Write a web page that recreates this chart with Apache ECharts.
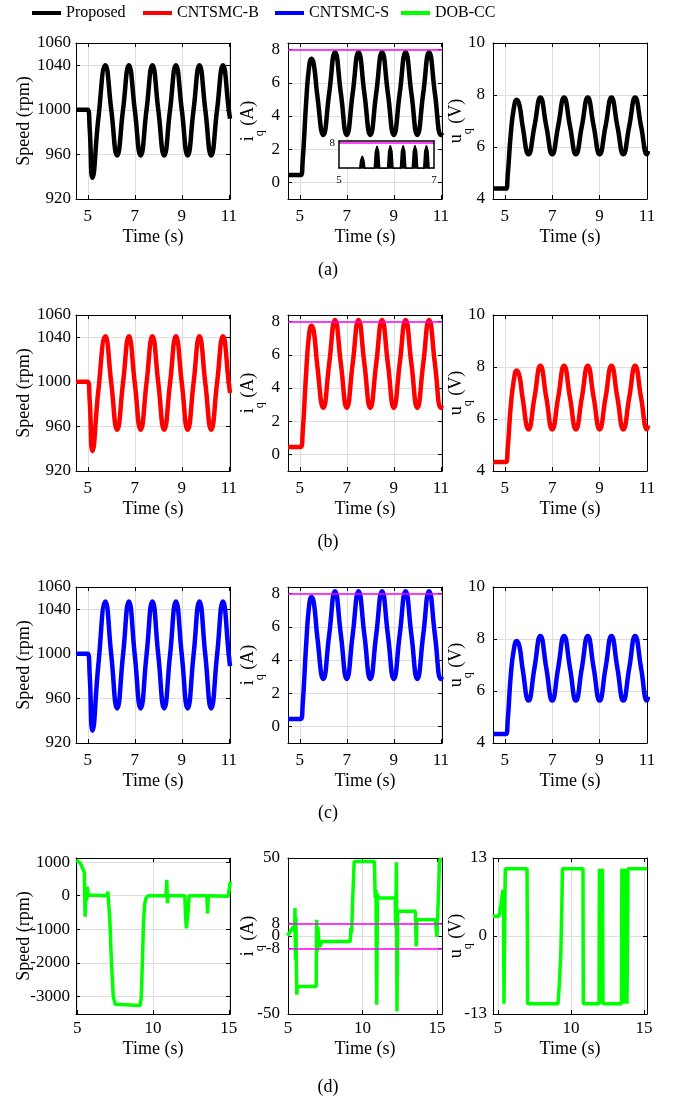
<!DOCTYPE html>
<html>
<head>
<meta charset="utf-8">
<script src="https://cdn.jsdelivr.net/npm/echarts@6/dist/echarts.min.js"></script>
<style>
  html, body { margin: 0; background: #fff; }
  #chart { width: 679px; height: 1100px; }
</style>
</head>
<body>
<div id="chart"></div>
<script>
// ---- data ----
const legendNames = ['Proposed', 'CNTSMC-B', 'CNTSMC-S', 'DOB-CC'];
const captions = ['(a)', '(b)', '(c)', '(d)'];

// rows (a)-(c): speed
const speedTime = [4.5, 5.0, 5.08, 5.2, 5.45, 5.75, 6.0, 6.25, 6.5, 6.75, 7.0, 7.25, 7.5, 7.75, 8.0, 8.25, 8.5, 8.75, 9.0, 9.25, 9.5, 9.75, 10.0, 10.25, 10.5, 10.75, 11.0, 11.05];
const speedProposed = [1000, 1000, 984, 939, 992, 1040, 1000, 959, 1000, 1040, 1000, 959, 1000, 1040, 1000, 959, 1000, 1040, 1000, 959, 1000, 1040, 1000, 959, 1000, 1040, 1000, 992];
const speedB = [1000, 1000, 984, 938, 992, 1041, 999, 957, 999, 1041, 999, 957, 999, 1041, 999, 957, 999, 1041, 999, 957, 999, 1041, 999, 957, 999, 1041, 999, 990];
const speedS = [1000, 1000, 982, 931, 990, 1047, 999, 951, 999, 1047, 999, 951, 999, 1047, 999, 951, 999, 1047, 999, 951, 999, 1047, 999, 951, 999, 1047, 999, 989];

// rows (a)-(c): iq
const iqTime = [4.5, 5.05, 5.12, 5.28, 5.4, 5.5, 5.6, 5.75, 6.0, 6.25, 6.5, 6.75, 7.0, 7.25, 7.5, 7.75, 8.0, 8.25, 8.5, 8.75, 9.0, 9.25, 9.5, 9.75, 10.0, 10.25, 10.5, 10.75, 11.0, 11.05];
const iqProposed = [0.45, 0.45, 1.2, 5.0, 7.0, 7.45, 7.1, 5.2, 2.85, 5.35, 7.85, 5.35, 2.85, 5.35, 7.85, 5.35, 2.85, 5.35, 7.85, 5.35, 2.85, 5.35, 7.85, 5.35, 2.85, 5.35, 7.85, 5.35, 2.85, 3.0];
const iqB = [0.45, 0.45, 1.2, 5.1, 7.25, 7.75, 7.4, 5.3, 2.8, 5.45, 8.1, 5.45, 2.8, 5.45, 8.1, 5.45, 2.8, 5.45, 8.1, 5.45, 2.8, 5.45, 8.1, 5.45, 2.8, 5.45, 8.1, 5.45, 2.8, 2.95];
const iqS = [0.45, 0.45, 1.2, 5.1, 7.3, 7.8, 7.45, 5.35, 2.85, 5.5, 8.15, 5.5, 2.85, 5.5, 8.15, 5.5, 2.85, 5.5, 8.15, 5.5, 2.85, 5.5, 8.15, 5.5, 2.85, 5.5, 8.15, 5.5, 2.85, 3.0];

// rows (a)-(c): uq
const uqTime = [4.5, 5.05, 5.12, 5.25, 5.38, 5.5, 5.62, 5.75, 6.0, 6.25, 6.5, 6.75, 7.0, 7.25, 7.5, 7.75, 8.0, 8.25, 8.5, 8.75, 9.0, 9.25, 9.5, 9.75, 10.0, 10.25, 10.5, 10.75, 11.0, 11.05];
const uqProposed = [4.4, 4.4, 4.9, 6.5, 7.5, 7.82, 7.6, 6.8, 5.72, 6.8, 7.9, 6.8, 5.72, 6.8, 7.9, 6.8, 5.72, 6.8, 7.9, 6.8, 5.72, 6.8, 7.9, 6.8, 5.72, 6.8, 7.9, 6.8, 5.72, 5.85];
const uqB = [4.35, 4.35, 4.85, 6.5, 7.5, 7.87, 7.65, 6.8, 5.6, 6.82, 8.05, 6.82, 5.6, 6.82, 8.05, 6.82, 5.6, 6.82, 8.05, 6.82, 5.6, 6.82, 8.05, 6.82, 5.6, 6.82, 8.05, 6.82, 5.6, 5.75];
const uqS = [4.35, 4.35, 4.85, 6.6, 7.6, 7.92, 7.7, 6.85, 5.63, 6.88, 8.12, 6.88, 5.63, 6.88, 8.12, 6.88, 5.63, 6.88, 8.12, 6.88, 5.63, 6.88, 8.12, 6.88, 5.63, 6.88, 8.12, 6.88, 5.63, 5.78];

// inset of panel (a) iq: peaks close to the 8 A limit
const insetTime = [5.43, 5.455, 5.49, 5.525, 5.55, 5.74, 5.765, 5.8, 5.835, 5.86, 6.02, 6.045, 6.08, 6.115, 6.14, 6.29, 6.315, 6.35, 6.385, 6.41, 6.54, 6.565, 6.6, 6.635, 6.66, 6.78, 6.805, 6.84, 6.875, 6.9];
const insetVal = [6.9, 7.3, 7.48, 7.3, 6.9, 6.9, 7.65, 7.88, 7.65, 6.9, 6.9, 7.67, 7.9, 7.67, 6.9, 6.9, 7.67, 7.9, 7.67, 6.9, 6.9, 7.67, 7.9, 7.67, 6.9, 6.9, 7.67, 7.9, 7.67, 6.9];

// row (d): DOB-CC
const speedTimeD = [4.93, 5.1, 5.25, 5.35, 5.42, 5.47, 5.52, 5.57, 5.62, 5.66, 5.72, 5.8, 6.95, 7.02, 7.08, 7.15, 7.25, 7.38, 7.5, 7.6, 9.15, 9.22, 9.3, 9.37, 9.45, 9.55, 9.68, 10.86, 10.91, 10.95, 11.0, 12.1, 12.15, 12.2, 12.27, 12.33, 12.38, 13.55, 13.6, 13.65, 14.95, 15.02, 15.1];
const speedD = [1050, 1010, 930, 810, 760, 700, -627, 150, -150, 269, 20, 0, 0, 119, 60, -700, -1900, -3000, -3230, -3265, -3265, -3050, -2000, -800, -250, -60, 0, 0, 469, -227, 0, 0, -600, -973, -940, -400, 0, 0, -525, 0, -20, 150, 418];

const iqTimeD = [4.97, 5.37, 5.44, 5.47, 5.5, 5.53, 5.56, 5.59, 5.63, 6.89, 6.92, 6.96, 7.0, 7.1, 7.28, 9.17, 9.22, 9.27, 9.32, 9.44, 10.79, 10.85, 10.9, 10.95, 11.0, 11.07, 12.19, 12.22, 12.27, 12.31, 12.36, 12.42, 13.54, 13.6, 13.65, 13.76, 14.88, 14.95, 14.99, 15.17, 15.33];
const iqD = [0.2, 6.2, 3, 18, -15, 12, -20, -37.6, -32.3, -32.3, 10.4, -9.9, 6, -7, -3.5, -3.5, 5, 2, 19, 47.8, 47.8, 24.4, 29.7, -44, 27, 24.4, 24.4, 6, 47.2, -48.3, 15.8, 15.8, 15.8, -6.7, 10.4, 10.4, 10.4, 4, -0.6, 48.9, 48.9];

const uqTimeD = [4.66, 5.07, 5.2, 5.34, 5.38, 5.41, 5.5, 6.99, 7.03, 9.11, 9.2, 9.3, 9.38, 9.41, 10.82, 10.84, 11.92, 11.94, 11.98, 12.01, 12.05, 12.08, 12.12, 12.15, 12.19, 13.45, 13.48, 13.53, 13.57, 13.62, 13.67, 13.72, 13.78, 13.83, 13.86, 13.9, 15.2];
const uqD = [3.3, 3.3, 5.2, 7.7, 6.5, -11.3, 11.2, 11.2, -11.3, -11.3, -8, -3, 6, 11.2, 11.2, -11.3, -11.3, 11.2, -11.3, 11.2, -11.3, 11.2, -11.3, 11.2, -11.3, -11.3, 11.2, -11.3, 11.2, -11.3, 11.2, -11.3, 11.2, -11.3, -11.3, 11.2, 11.2];

// tick labels
const timeTicks = [5, 7, 9, 11];
const timeTicksD = [5, 10, 15];
const speedTicks = [920, 960, 1000, 1040, 1060];
const iqTicks = [0, 2, 4, 6, 8];
const uqTicks = [4, 6, 8, 10];
const speedTicksD = [-3000, -2000, -1000, 0, 1000];
const iqTicksD = [-50, -8, 0, 8, 50];
const uqTicksD = [-13, 0, 13];
const iqLimit = [8];
const iqLimitD = [8, -8];

// ---- layout ----
const FONT = 'Liberation Serif';
const colLeft = [76, 288, 493];
const rowTop = [43, 315, 587, 858];
const captionY = [270, 542, 813, 1087];
const legendLeft = [32, 143, 275, 401];
const colors = ['#000000', '#ff0000', '#0000ff', '#00ff00'];

const txt = { color: '#000', fontFamily: FONT };
const subRich = {
    n: { color: '#000', fontFamily: FONT, fontSize: 18 },
    s: { color: '#000', fontFamily: FONT, fontSize: 12, padding: [24, 0, 0, 0] }
};

const grids = [], xAxes = [], yAxes = [], series = [];

function zip(t, v) {
    return t.map((x, i) => [x, v[i]]);
}

function addPanel(p) {
    const g = grids.length;
    const inset = !!p.inset;
    grids.push({
        left: p.left, top: p.top, width: p.w || 154, height: p.h || 156,
        outerBoundsMode: 'none', containLabel: false,
        show: inset, backgroundColor: '#fff', borderWidth: 0, z: inset ? 5 : 0
    });
    const axisLine = { show: true, onZero: false, lineStyle: { color: '#000', width: inset ? 1.5 : 1 } };
    const split = { show: !inset, lineStyle: { color: '#dedede', width: 1 } };
    const tickX = { show: !inset, inside: true, length: 4, lineStyle: { color: '#000' }, customValues: p.xTicks };
    const tickY = { show: !inset, inside: true, length: 4, lineStyle: { color: '#000' }, customValues: p.yTicks };
    const fs = inset ? 11 : 17;
    const z = inset ? 6 : 0;
    const plain = v => String(v);

    xAxes.push({
        type: 'value', gridIndex: g, min: p.xMin, max: p.xMax, position: 'bottom', z,
        axisLine, axisTick: tickX, splitLine: split,
        axisLabel: { ...txt, fontSize: fs, margin: p.xMargin, customValues: p.xTicks, formatter: plain },
        name: p.xName || '', nameLocation: 'middle', nameGap: p.xNameGap, nameMoveOverlap: false,
        nameTextStyle: { ...txt, fontSize: 18 }
    });
    xAxes.push({
        type: 'value', gridIndex: g, min: p.xMin, max: p.xMax, position: 'top', z,
        axisLine, axisTick: tickX, axisLabel: { show: false }, splitLine: { show: false }
    });
    yAxes.push({
        type: 'value', gridIndex: g, min: p.yMin, max: p.yMax, position: 'left', z,
        axisLine, axisTick: tickY, splitLine: split,
        axisLabel: { ...txt, fontSize: fs, margin: p.yMargin, customValues: p.yTicks, formatter: plain },
        name: p.yName || '', nameLocation: 'middle', nameRotate: 90, nameGap: p.yNameGap,
        nameMoveOverlap: false,
        nameTextStyle: { ...txt, fontSize: 18, rich: subRich }
    });
    yAxes.push({
        type: 'value', gridIndex: g, min: p.yMin, max: p.yMax, position: 'right', z,
        axisLine, axisTick: tickY, axisLabel: { show: false }, splitLine: { show: false }
    });

    const s = {
        type: 'line', name: p.name, xAxisIndex: 2 * g, yAxisIndex: 2 * g, z: inset ? 7 : 2,
        data: zip(p.t, p.v), showSymbol: false, smooth: p.smooth ? 0.5 : false,
        lineStyle: { color: p.color, width: p.lw }, itemStyle: { color: p.color },
        animation: false, silent: true
    };
    if (inset) s.areaStyle = { color: p.color, opacity: 1 };
    if (p.limits) {
        s.markLine = {
            silent: true, symbol: 'none', label: { show: false }, animation: false,
            lineStyle: { color: '#ff00ff', width: 1.5, type: 'solid' },
            data: p.limits.map(v => ({ yAxis: v }))
        };
    }
    series.push(s);
}

const rowsABC = [
    { speed: speedProposed, iq: iqProposed, uq: uqProposed },
    { speed: speedB, iq: iqB, uq: uqB },
    { speed: speedS, iq: iqS, uq: uqS }
];

rowsABC.forEach((r, i) => {
    const common = {
        top: rowTop[i], name: legendNames[i], color: colors[i], lw: 4.5, smooth: true,
        xTicks: timeTicks, xMin: 4.5, xName: 'Time (s)', xNameGap: 29, xMargin: 9
    };
    addPanel({ ...common, left: colLeft[0], xMax: 11.05, t: speedTime, v: r.speed,
        yMin: 920, yMax: 1060, yTicks: speedTicks, yName: 'Speed (rpm)', yNameGap: 43, yMargin: 5 });
    addPanel({ ...common, left: colLeft[1], xMax: 11.05, t: iqTime, v: r.iq,
        yMin: -1, yMax: 8.4, yTicks: iqTicks, yName: '{n|i}{s|q}{n| (A)}', yNameGap: 22, yMargin: 8,
        limits: iqLimit });
    addPanel({ ...common, left: colLeft[2], xMax: 11, t: uqTime, v: r.uq,
        yMin: 4, yMax: 10, yTicks: uqTicks, yName: '{n|u}{s|q}{n| (V)}', yNameGap: 19, yMargin: 8 });
});

// inset in panel (a) iq
addPanel({
    inset: true, left: 339, top: 141, w: 95, h: 27, name: legendNames[0], color: colors[0], lw: 1.5,
    t: insetTime, v: insetVal, xMin: 5, xMax: 7, xTicks: [5, 7], xMargin: 7,
    yMin: 7.0, yMax: 8.08, yTicks: [8], yMargin: 4, limits: iqLimit
});

const commonD = {
    top: rowTop[3], name: legendNames[3], color: colors[3], lw: 3.5, smooth: false,
    xTicks: timeTicksD, xName: 'Time (s)', xNameGap: 26, xMargin: 6
};
addPanel({ ...commonD, left: colLeft[0], xMin: 4.92, xMax: 15.08, t: speedTimeD, v: speedD,
    yMin: -3520, yMax: 1120, yTicks: speedTicksD, yName: 'Speed (rpm)', yNameGap: 43, yMargin: 6 });
addPanel({ ...commonD, left: colLeft[1], xMin: 5, xMax: 15.33, t: iqTimeD, v: iqD,
    yMin: -50, yMax: 50, yTicks: iqTicksD, yName: '{n|i}{s|q}{n| (A)}', yNameGap: 22, yMargin: 8,
    limits: iqLimitD });
addPanel({ ...commonD, left: colLeft[2], xMin: 4.66, xMax: 15.2, t: uqTimeD, v: uqD,
    yMin: -13, yMax: 13, yTicks: uqTicksD, yName: '{n|u}{s|q}{n| (V)}', yNameGap: 19, yMargin: 6 });

const option = {
    backgroundColor: '#fff',
    animation: false,
    textStyle: { fontFamily: FONT },
    grid: grids,
    xAxis: xAxes,
    yAxis: yAxes,
    legend: legendNames.map((n, i) => ({
        data: [n], left: legendLeft[i], top: 5, padding: 0, icon: 'rect',
        itemWidth: 29, itemHeight: 4, selectedMode: false,
        textStyle: { ...txt, fontSize: 16 }
    })),
    graphic: captions.map((c, i) => ({
        type: 'text', x: 328, y: captionY[i],
        style: {
            text: c, font: '18px "Liberation Serif"', fill: '#000',
            textAlign: 'center', textVerticalAlign: 'middle', align: 'center', verticalAlign: 'middle'
        }
    })),
    series
};

const chart = echarts.init(document.getElementById('chart'), null, { renderer: 'canvas' });
chart.setOption(option);
window.addEventListener('resize', () => chart.resize());
</script>
</body>
</html>
